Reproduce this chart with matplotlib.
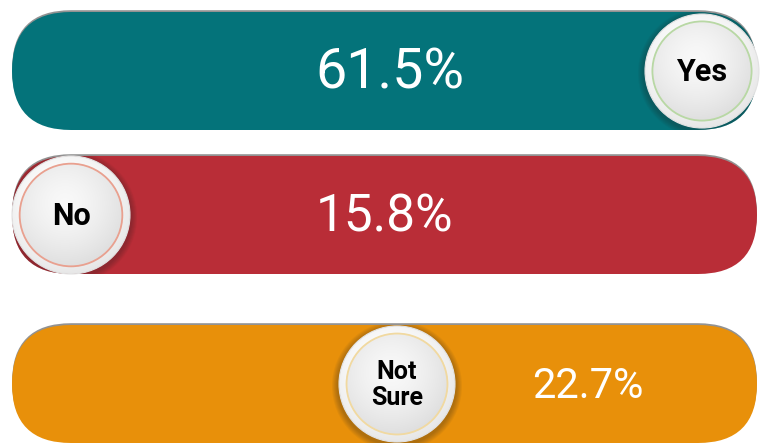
import numpy as np
import matplotlib
matplotlib.use("Agg")
import matplotlib.pyplot as plt
from matplotlib.patches import FancyBboxPatch, Circle

# ---- data ----
categories = ["Yes", "No", "Not Sure"]
label_texts = ["Yes", "No", "Not\nSure"]
values = [61.5, 15.8, 22.7]
value_labels = [f"{v:.1f}%" for v in values]

# ---- styles / layout (pixel-like canvas units) ----
bar_colors = ["#04737A", "#B92D37", "#E8900A"]
ring_colors = ["#b8d8a4", "#e9a08f", "#f1d9a0"]
row_top = [12, 156, 325]
bar_h = 118
bar_left, bar_right = 12, 757
circle_x = [702, 71, 397]
circle_r = [57, 59, 58]
value_x = [390, 385, 588]
value_size = [40, 37, 30]
label_size = [22, 22, 18]
font = "Roboto"

fig = plt.figure(figsize=(7.6, 4.46), dpi=100)
ax = fig.add_axes([0, 0, 1, 1])
ax.set_xlim(0, 760)
ax.set_ylim(446, 0)
ax.set_aspect("equal")
ax.axis("off")

for i, cat in enumerate(categories):
    top = row_top[i]
    cy = top + bar_h / 2
    sh = FancyBboxPatch((bar_left, top - 1.8), bar_right - bar_left, bar_h,
                        boxstyle=f"round,pad=0,rounding_size={bar_h/2}",
                        fc="#4a4a4a", ec="none", alpha=0.6, zorder=1)
    ax.add_patch(sh)
    bar = FancyBboxPatch((bar_left, top), bar_right - bar_left, bar_h,
                         boxstyle=f"round,pad=0,rounding_size={bar_h/2}",
                         fc=bar_colors[i], ec="none", zorder=2)
    ax.add_patch(bar)

    ax.text(value_x[i], cy + 2, value_labels[i], color="white",
            fontsize=value_size[i], family=font, ha="center", va="center", zorder=3)

    cx, r = circle_x[i], circle_r[i]
    for k in range(6):
        s = Circle((cx, cy + 2), r + 7 - k, fc="#202020", ec="none", alpha=0.05, zorder=4)
        ax.add_patch(s)
        s.set_clip_path(bar)
    n = 200
    yy, xx = np.mgrid[-1:1:n * 1j, -1:1:n * 1j]
    d = np.sqrt((xx + 0.1) ** 2 + (yy + 0.2) ** 2)
    g = 0.975 - 0.09 * np.clip(d, 0, 1.4) ** 1.5
    rr = np.sqrt(xx ** 2 + yy ** 2)
    g = np.where(rr > 0.88, np.minimum(g + 0.05, 0.99), g)
    img = np.dstack([g, g, g])
    clip = Circle((cx, cy), r, transform=ax.transData)
    im = ax.imshow(img, extent=(cx - r, cx + r, cy + r, cy - r), origin="upper",
                   zorder=5, interpolation="bilinear", vmin=0, vmax=1)
    im.set_clip_path(clip)
    ax.add_patch(Circle((cx, cy), r, fc="none", ec="#e2e2e2", lw=0.8, zorder=6))
    ax.add_patch(Circle((cx, cy), r * 0.87, fc="none", ec=ring_colors[i], lw=1.3, zorder=6))
    ax.text(cx, cy + 1, label_texts[i], color="black", fontsize=label_size[i],
            family=font, weight="bold", ha="center", va="center",
            linespacing=1.1, zorder=7)

ax.set_xlim(0, 760)
ax.set_ylim(446, 0)
fig.savefig("out.png", dpi=100, facecolor="white")
